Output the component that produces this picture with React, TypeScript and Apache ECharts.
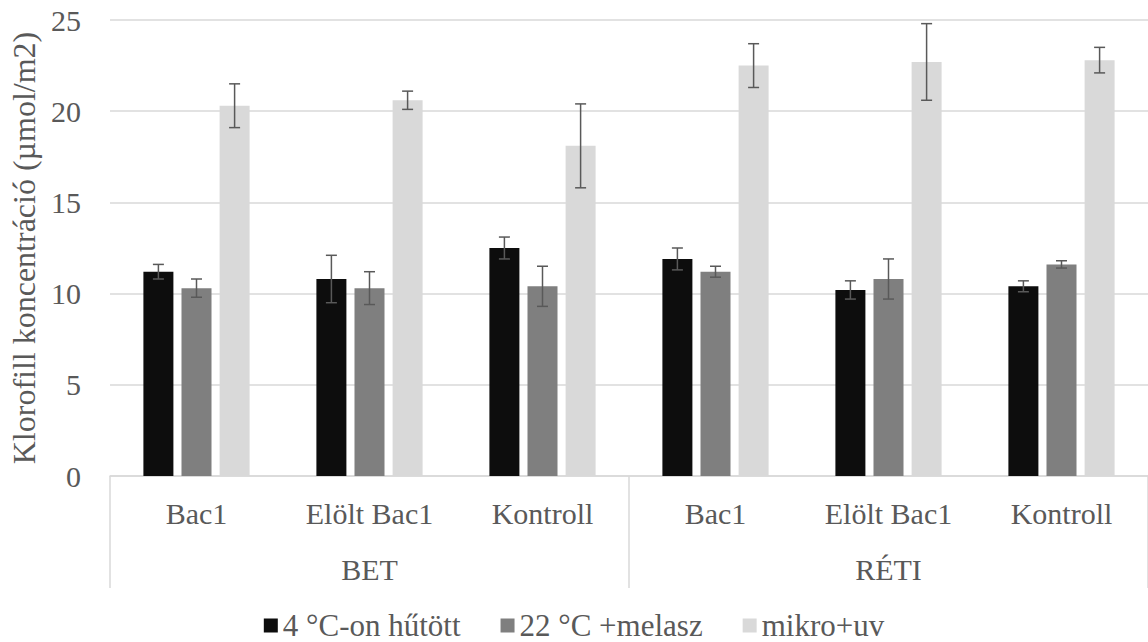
import React, { useEffect, useRef } from "react";
import * as echarts from "echarts";

const categories = ["Bac1", "Elölt Bac1", "Kontroll", "Bac1", "Elölt Bac1", "Kontroll"];
const groups = ["BET", "RÉTI"];
const seriesNames = ["4 °C-on hűtött", "22 °C +melasz", "mikro+uv"];
const cooled = [11.2, 10.8, 12.5, 11.9, 10.2, 10.4];
const cooledErr = [0.4, 1.3, 0.6, 0.6, 0.5, 0.3];
const molasses = [10.3, 10.3, 10.4, 11.2, 10.8, 11.6];
const molassesErr = [0.5, 0.9, 1.1, 0.3, 1.1, 0.2];
const microUv = [20.3, 20.6, 18.1, 22.5, 22.7, 22.8];
const microUvErr = [1.2, 0.5, 2.3, 1.2, 2.1, 0.7];
const yTicks = { min: 0, max: 25, interval: 5 };

const colors = ["#0d0d0d", "#7f7f7f", "#d9d9d9"];
const FONT = "Liberation Serif";
const TEXT = "#595959";
const BAR_W = 30;
const BAR_GAP = 0.27;

export default function App() {
  const ref = useRef<HTMLDivElement>(null);
  useEffect(() => {
    if (!ref.current) return;
    const chart = echarts.init(ref.current, undefined, { renderer: "svg" });
    const values = [cooled, molasses, microUv];
    const errs = [cooledErr, molassesErr, microUvErr];
    const errData: number[][] = [];
    values.forEach((arr, s) =>
      arr.forEach((v, i) => errData.push([i, s, v, errs[s][i]]))
    );
    const step = BAR_W * (1 + BAR_GAP);
    const offsets = [-step, 0, step];
    chart.setOption({
      animation: false,
      textStyle: { fontFamily: FONT },
      grid: { left: 110, right: 0, top: 20, bottom: 166, containLabel: false },
      legend: {
        data: seriesNames,
        top: 605,
        left: "center",
        itemWidth: 14,
        itemHeight: 14,
        itemGap: 40,
        icon: "rect",
        textStyle: { fontFamily: FONT, fontSize: 31, color: TEXT },
      },
      xAxis: [
        {
          type: "category",
          data: categories,
          axisLine: { lineStyle: { color: "#d9d9d9", width: 1.5 } },
          axisTick: { show: false },
          axisLabel: { fontFamily: FONT, fontSize: 30, color: TEXT, margin: 22, interval: 0 },
        },
        {
          type: "category",
          data: groups,
          position: "bottom",
          axisLine: { show: false },
          axisTick: { show: true, length: 112, lineStyle: { color: "#d9d9d9", width: 1.5 } },
          axisLabel: { fontFamily: FONT, fontSize: 30, color: TEXT, margin: 78 },
        },
      ],
      yAxis: {
        type: "value",
        min: yTicks.min,
        max: yTicks.max,
        interval: yTicks.interval,
        name: "Klorofill koncentráció (µmol/m2)",
        nameLocation: "middle",
        nameGap: 67,
        nameTextStyle: { fontFamily: FONT, fontSize: 32, color: TEXT },
        axisLine: { show: false },
        axisTick: { show: false },
        splitLine: { lineStyle: { color: "#d9d9d9", width: 1.5 } },
        axisLabel: { fontFamily: FONT, fontSize: 30, color: TEXT, margin: 29 },
      },
      series: [
        ...seriesNames.map((name, s) => ({
          name,
          type: "bar",
          data: values[s],
          barWidth: BAR_W,
          barGap: BAR_GAP * 100 + "%",
          itemStyle: { color: colors[s] },
        })),
        {
          type: "custom",
          name: "err",
          data: errData,
          encode: { x: 0, y: 2 },
          z: 10,
          renderItem: (params: any, api: any) => {
            const cat = api.value(0);
            const s = api.value(1);
            const v = api.value(2);
            const e = api.value(3);
            const top = api.coord([cat, v + e]);
            const bot = api.coord([cat, v - e]);
            const x = top[0] + offsets[s];
            const style = { stroke: "#595959", lineWidth: 1.5 };
            const hw = 5.5;
            return {
              type: "group",
              children: [
                { type: "line", shape: { x1: x, y1: top[1], x2: x, y2: bot[1] }, style },
                { type: "line", shape: { x1: x - hw, y1: top[1], x2: x + hw, y2: top[1] }, style },
                { type: "line", shape: { x1: x - hw, y1: bot[1], x2: x + hw, y2: bot[1] }, style },
              ],
            };
          },
        },
      ],
    });
    return () => chart.dispose();
  }, []);
  return (
    <div
      ref={ref}
      style={{ position: "absolute", left: 0, top: 0, width: 1148, height: 642, background: "#fff" }}
    />
  );
}
